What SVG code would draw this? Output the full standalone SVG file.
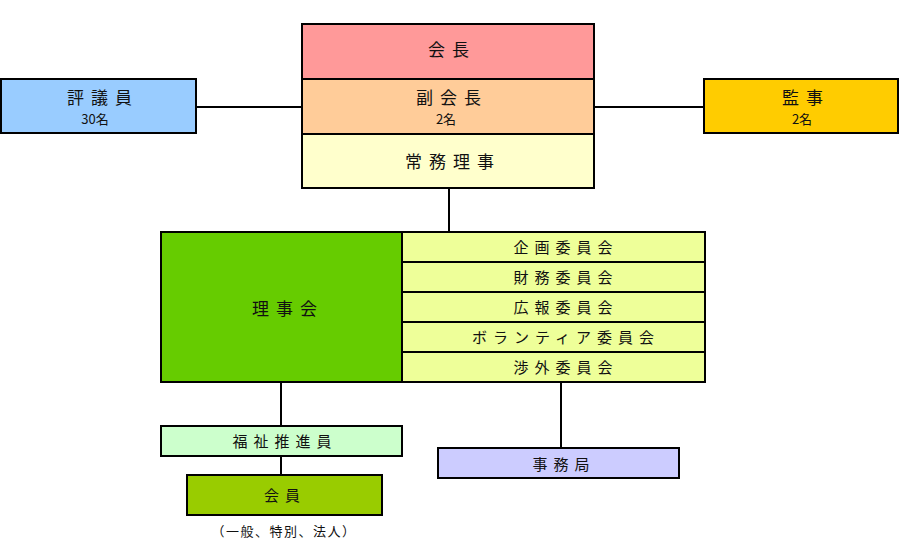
<svg xmlns="http://www.w3.org/2000/svg" width="900" height="550" viewBox="0 0 900 550">
<style>
  rect { stroke: #000; stroke-width: 2; }
  .conn line { stroke: #000; stroke-width: 2; }
  text { font-family: "Noto Sans CJK JP", "Noto Sans", sans-serif; fill: #111; text-anchor: middle; dominant-baseline: central; }
  .t { font-size: 17px; letter-spacing: 7px; }
  .c { font-size: 15px; letter-spacing: 6px; }
  .s { font-size: 13px; }
  .n { font-size: 13px; letter-spacing: 1.5px; }
</style>
<g class="conn">
  <line x1="196" y1="107" x2="302" y2="107"/>
  <line x1="594" y1="107" x2="704" y2="107"/>
  <line x1="449" y1="188" x2="449" y2="232"/>
  <line x1="281" y1="382" x2="281" y2="426"/>
  <line x1="281" y1="456" x2="281" y2="475"/>
  <line x1="561" y1="382" x2="561" y2="448"/>
</g>
<g id="hyogiin">
  <rect x="1" y="79" width="195" height="54" fill="#99CCFF"/>
  <text class="t" x="103" y="96">評議員</text>
  <text class="s" x="95" y="118.5">30名</text>
</g>
<g id="kaicho">
  <rect x="302" y="24" width="292" height="55" fill="#FF9999"/>
  <text class="t" x="452" y="48">会長</text>
</g>
<g id="fukukaicho">
  <rect x="302" y="79" width="292" height="55" fill="#FFCC99"/>
  <text class="t" x="452" y="96">副会長</text>
  <text class="s" x="446" y="118.5">2名</text>
</g>
<g id="jomuriji">
  <rect x="302" y="134" width="292" height="54" fill="#FFFFCC"/>
  <text class="t" x="453" y="160">常務理事</text>
</g>
<g id="kanji">
  <rect x="704" y="79" width="194" height="54" fill="#FFCC00"/>
  <text class="t" x="806" y="96">監事</text>
  <text class="s" x="802" y="118.5">2名</text>
</g>
<g id="rijikai">
  <rect x="161" y="232" width="241" height="150" fill="#66CC00"/>
  <text class="t" x="288" y="307">理事会</text>
</g>
<g id="kikaku">
  <rect x="402" y="232" width="303" height="30" fill="#EEFF99"/>
  <text class="c" x="566" y="246">企画委員会</text>
</g>
<g id="zaimu">
  <rect x="402" y="262" width="303" height="30" fill="#EEFF99"/>
  <text class="c" x="566" y="276">財務委員会</text>
</g>
<g id="koho">
  <rect x="402" y="292" width="303" height="30" fill="#EEFF99"/>
  <text class="c" x="566" y="306">広報委員会</text>
</g>
<g id="volunteer">
  <rect x="402" y="322" width="303" height="30" fill="#EEFF99"/>
  <text class="c" x="566" y="336">ボランティア委員会</text>
</g>
<g id="shogai">
  <rect x="402" y="352" width="303" height="30" fill="#EEFF99"/>
  <text class="c" x="566" y="366">渉外委員会</text>
</g>
<g id="fukushi">
  <rect x="161" y="426" width="241" height="30" fill="#CCFFCC"/>
  <text class="c" x="285" y="440">福祉推進員</text>
</g>
<g id="kaiin">
  <rect x="187" y="475" width="195" height="40" fill="#99CC00"/>
  <text class="c" x="285" y="494">会員</text>
  <text class="n" x="284" y="530">（一般、特別、法人）</text>
</g>
<g id="jimukyoku">
  <rect x="438" y="448" width="241" height="30" fill="#CCCCFF"/>
  <text class="c" x="564" y="463">事務局</text>
</g>
</svg>
